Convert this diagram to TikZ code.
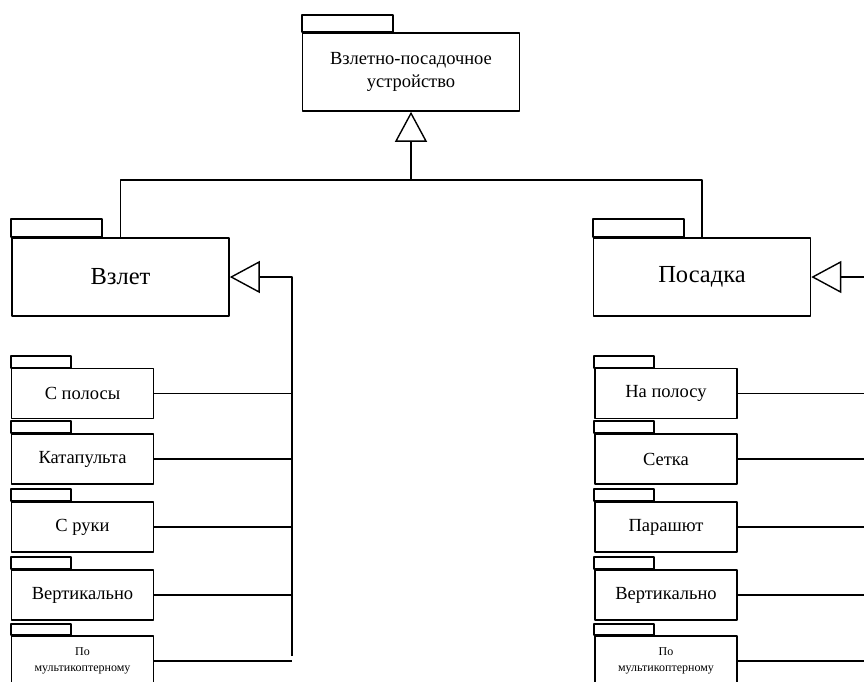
\documentclass[tikz,border=0pt]{standalone}
\usepackage{fontspec}
\setmainfont{Liberation Serif}
\usetikzlibrary{arrows.meta}
\tikzset{
  pkg/.style={draw,line width=1.6pt,rectangle,minimum width=142pt,minimum height=50pt,
    inner sep=1pt,align=center,font=\fontsize{18.5}{22}\selectfont},
  bigpkg/.style={pkg,minimum width=217pt,minimum height=78pt},
  gen/.style={-{Triangle[open,length=30pt,width=32pt]},line width=1.4pt},
  link/.style={line width=1.4pt},
}
% tab on top of a package
\newcommand\pkgtab[3]{\draw[line width=1.6pt] (#1.north west) rectangle ++(#2,-#3);}
\begin{document}
\begin{tikzpicture}[x=1pt,y=-1pt,line join=round]
\useasboundingbox (0,0) rectangle (864,681);
\clip (0,0) rectangle (864,681);
% top package
\node[bigpkg,font=\fontsize{18.5}{23}\selectfont] (root) at (411,72) {Взлетно-посадочное\\устройство};
\pkgtab{root}{91}{17}
\node[bigpkg,font=\fontsize{24.5}{28}\selectfont] (vzlet) at (120.5,277) {Взлет};
\pkgtab{vzlet}{91}{18}
\node[bigpkg,font=\fontsize{24.5}{28}\selectfont] (posadka) at (702,277) {Посадка};
\pkgtab{posadka}{91}{18}
\coordinate (hub) at (411,180);
\draw[gen] (hub) -- (root.south);
\draw[link] (vzlet.north) |- (hub) -| (posadka.north);
% left branch
\coordinate (lspine) at (292,656);
\draw[gen] (lspine) |- (vzlet.east);
\foreach \i/\y/\t in {1/393.5/С полосы,2/459/Катапульта,3/527/С руки,4/595/Вертикально}{
  \node[pkg] (l\i) at (82.5,\y) {\t};
  \pkgtab{l\i}{60}{12}
  \draw[link] (l\i.east) -- (l\i.east -| lspine);
}
\node[pkg,font=\fontsize{12}{16}\selectfont] (l5) at (82.5,661) {По\\мультикоптерному};
\pkgtab{l5}{60}{11}
\draw[link] (l5.east) -- (l5.east -| lspine);
% right branch
\coordinate (rspine) at (880,656);
\draw[gen] (rspine) |- (posadka.east);
\foreach \i/\y/\t in {1/393.5/На полосу,2/459/Сетка,3/527/Парашют,4/595/Вертикально}{
  \node[pkg] (r\i) at (666,\y) {\t};
  \pkgtab{r\i}{60}{12}
  \draw[link] (r\i.east) -- (r\i.east -| rspine);
}
\node[pkg,font=\fontsize{12}{16}\selectfont] (r5) at (666,661) {По\\мультикоптерному};
\pkgtab{r5}{60}{11}
\draw[link] (r5.east) -- (r5.east -| rspine);
\end{tikzpicture}
\end{document}
